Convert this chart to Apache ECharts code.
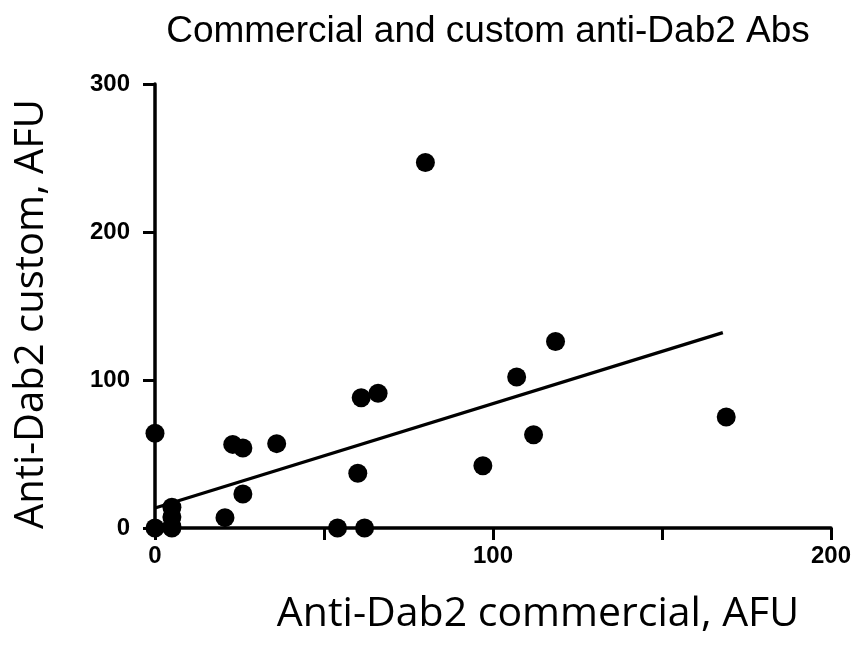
<!DOCTYPE html>
<html>
<head>
<meta charset="utf-8">
<script src="https://cdn.jsdelivr.net/npm/echarts@6/dist/echarts.min.js"></script>
<style>
html, body { margin: 0; padding: 0; background: #fff; }
#chart { width: 868px; height: 663px; }
</style>
</head>
<body>
<div id="chart"></div>
<script>
// values
var commercial = [0, 0, 5, 5, 5, 5, 20.7, 23, 26, 26, 36, 54, 60, 61, 62, 66, 80, 97, 107, 112, 118.5, 169];
var custom     = [0, 64, 0, 1, 7.5, 14, 7, 56.5, 54, 23, 57, 0, 37, 88, 0, 91, 247, 42, 102, 63, 126, 75];
// fitted line end points
var fitX = [0, 168];
var fitY = [13.5, 132];
var xTicks = ['0', '', '100', '', '200'];
var yTicks = ['0', '100', '200', '300'];

var points = commercial.map(function (x, i) { return [x, custom[i]]; });
var fitLine = fitX.map(function (x, i) { return [x, fitY[i]]; });

var myChart = echarts.init(document.getElementById('chart'));
var axisBase = {
    axisLine: { show: true, lineStyle: { color: '#000', width: 3.5 } },
    axisTick: { show: true, inside: false, length: 12, lineStyle: { color: '#000', width: 3 } },
    splitLine: { show: false }
};
var option = {
    animation: false,
    backgroundColor: '#fff',
    title: {
        text: 'Commercial and custom anti-Dab2 Abs',
        left: 483,
        textAlign: 'center',
        top: 8,
        textStyle: { fontFamily: 'Liberation Sans', fontWeight: 'normal', fontSize: 37, color: '#000' }
    },
    grid: { left: 155, right: 37, top: 84, bottom: 135 },
    xAxis: Object.assign({
        type: 'value',
        min: 0, max: 200, interval: 50,
        name: 'Anti-Dab2 commercial, AFU',
        nameLocation: 'middle',
        nameGap: 66,
        nameTextStyle: { fontFamily: 'Open Sans', fontSize: 41, color: '#000', padding: [0, 0, 0, 90] },
        axisLabel: {
            margin: 16,
            color: '#000', fontFamily: 'Liberation Sans', fontWeight: 'bold', fontSize: 24,
            formatter: function (v) { return xTicks[Math.round(v / 50)]; }
        }
    }, axisBase),
    yAxis: Object.assign({
        type: 'value',
        min: 0, max: 300, interval: 100,
        name: 'Anti-Dab2 custom, AFU',
        nameLocation: 'middle',
        nameRotate: 90,
        nameGap: 103,
        nameTextStyle: { fontFamily: 'Open Sans', fontSize: 40, color: '#000', padding: [0, 16, 0, 0] },
        axisLabel: {
            margin: 25,
            color: '#000', fontFamily: 'Liberation Sans', fontWeight: 'bold', fontSize: 24,
            formatter: function (v) { return yTicks[Math.round(v / 100)]; }
        }
    }, axisBase),
    series: [
        {
            type: 'line',
            data: fitLine,
            symbol: 'none',
            lineStyle: { color: '#000', width: 3.2 },
            z: 3
        },
        {
            type: 'scatter',
            data: points,
            symbol: 'circle',
            symbolSize: 19,
            clip: false,
            itemStyle: { color: '#000', opacity: 1 },
            z: 4
        }
    ]
};
myChart.setOption(option);
</script>
</body>
</html>
